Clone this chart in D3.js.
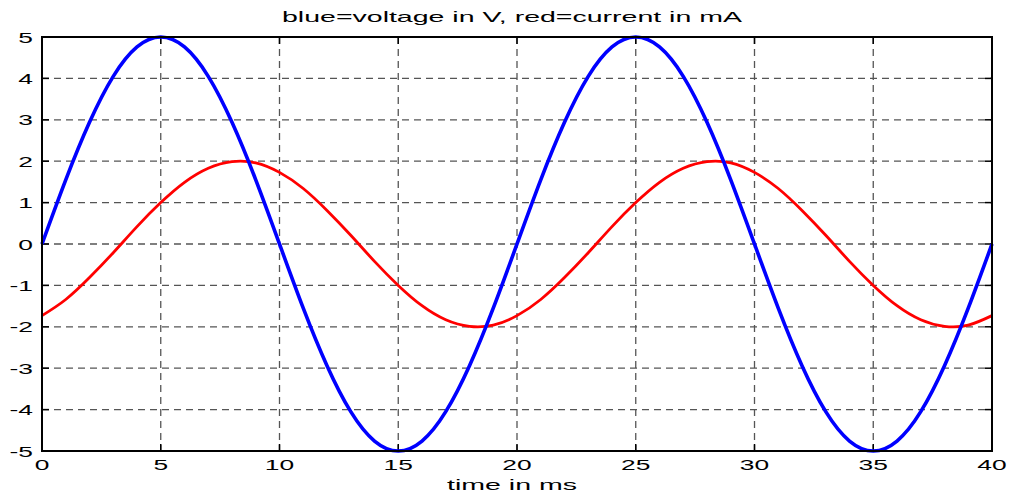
<!DOCTYPE html>
<html>
<head>
<meta charset="utf-8">
<script src="https://cdn.jsdelivr.net/npm/d3@7"></script>
<style>
  body { margin: 0; background: #fff; }
  text { font-family: Arial, "Liberation Sans", sans-serif; fill: #000; }
</style>
</head>
<body>
<script>
// time samples in ms
var timeMs = d3.range(0, 41, 1)
// blue: voltage in V, every 1 ms
var voltage = [0, 1.55, 2.94, 4.05, 4.76, 5, 4.76, 4.05, 2.94, 1.55,
               0, -1.55, -2.94, -4.05, -4.76, -5, -4.76, -4.05, -2.94, -1.55,
               0, 1.55, 2.94, 4.05, 4.76, 5, 4.76, 4.05, 2.94, 1.55,
               0, -1.55, -2.94, -4.05, -4.76, -5, -4.76, -4.05, -2.94, -1.55, 0]
// red: current in mA
var current = [-1.73, -1.34, -0.81, -0.21, 0.42, 1.0, 1.49, 1.83, 1.99, 1.96,
               1.73, 1.34, 0.81, 0.21, -0.42, -1.0, -1.49, -1.83, -1.99, -1.96,
               -1.73, -1.34, -0.81, -0.21, 0.42, 1.0, 1.49, 1.83, 1.99, 1.96,
               1.73, 1.34, 0.81, 0.21, -0.42, -1.0, -1.49, -1.83, -1.99, -1.96, -1.73]
var xTicks = [0, 5, 10, 15, 20, 25, 30, 35, 40]
var yTicks = [-5, -4, -3, -2, -1, 0, 1, 2, 3, 4, 5]
var titleText = 'blue=voltage in V, red=current in mA'
var xLabelText = 'time in ms'

function main() {
    var svgWidth = 1010, svgHeight = 495
    var left = 42, right = 992, top = 37, bottom = 451
    var stretch = 1.7   // text in the picture is wider than normal Arial

    var svg = d3.select('body').append('svg')
        .attr('width', svgWidth).attr('height', svgHeight)

    var xScale = d3.scaleLinear().domain([0, 40]).range([left, right])
    var yScale = d3.scaleLinear().domain([-5, 5]).range([bottom, top])

    function widen(sel, factor) {
        sel.each(function() {
            var w = this.getComputedTextLength()
            d3.select(this).attr('textLength', w * factor).attr('lengthAdjust', 'spacingAndGlyphs')
        })
    }

    // dashed grid
    var grid = svg.append('g')
        .attr('stroke', '#555').attr('stroke-width', 1.3).attr('stroke-dasharray', '7,5')
    grid.selectAll('.vgrid').data(xTicks.slice(1, -1)).enter().append('line')
        .attr('x1', function(d) { return xScale(d) }).attr('x2', function(d) { return xScale(d) })
        .attr('y1', top).attr('y2', bottom)
    grid.selectAll('.hgrid').data(yTicks.slice(1, -1)).enter().append('line')
        .attr('y1', function(d) { return yScale(d) }).attr('y2', function(d) { return yScale(d) })
        .attr('x1', left).attr('x2', right)

    // ticks pointing inward on all four sides
    var tickLen = 7
    var ticks = svg.append('g').attr('stroke', '#000').attr('stroke-width', 1.5)
    xTicks.forEach(function(d) {
        ticks.append('line').attr('x1', xScale(d)).attr('x2', xScale(d)).attr('y1', bottom).attr('y2', bottom - tickLen)
        ticks.append('line').attr('x1', xScale(d)).attr('x2', xScale(d)).attr('y1', top).attr('y2', top + tickLen)
    })
    yTicks.forEach(function(d) {
        ticks.append('line').attr('y1', yScale(d)).attr('y2', yScale(d)).attr('x1', left).attr('x2', left + tickLen)
        ticks.append('line').attr('y1', yScale(d)).attr('y2', yScale(d)).attr('x1', right).attr('x2', right - tickLen)
    })

    // curves
    var line = d3.line().curve(d3.curveNatural)
        .x(function(d, i) { return xScale(timeMs[i]) })
        .y(function(d) { return yScale(d) })
    svg.append('path').datum(current).attr('d', line)
        .attr('fill', 'none').attr('stroke', '#ff0000').attr('stroke-width', 2.8)
    svg.append('path').datum(voltage).attr('d', line)
        .attr('fill', 'none').attr('stroke', '#0000ff').attr('stroke-width', 3.6)

    // box
    svg.append('rect').attr('x', left).attr('y', top)
        .attr('width', right - left).attr('height', bottom - top)
        .attr('fill', 'none').attr('stroke', '#000').attr('stroke-width', 2)

    // tick labels
    var xl = svg.append('g').selectAll('text').data(xTicks).enter().append('text')
        .attr('x', function(d) { return xScale(d) }).attr('y', 470)
        .attr('text-anchor', 'middle').attr('font-size', '15.5px')
        .text(function(d) { return d })
    widen(xl, stretch)

    var yl = svg.append('g').selectAll('text').data(yTicks).enter().append('text')
        .attr('x', 33).attr('y', function(d) { return yScale(d) + 5.5 })
        .attr('text-anchor', 'end').attr('font-size', '15.5px')
        .text(function(d) { return d })
    widen(yl, stretch)

    // title and axis label
    svg.append('text').attr('x', 512).attr('y', 22).attr('text-anchor', 'middle')
        .attr('font-size', '15px').attr('textLength', 460).attr('lengthAdjust', 'spacingAndGlyphs')
        .text(titleText)
    svg.append('text').attr('x', 512).attr('y', 490).attr('text-anchor', 'middle')
        .attr('font-size', '15.5px').attr('textLength', 130).attr('lengthAdjust', 'spacingAndGlyphs')
        .text(xLabelText)
}

main()
</script>
</body>
</html>
